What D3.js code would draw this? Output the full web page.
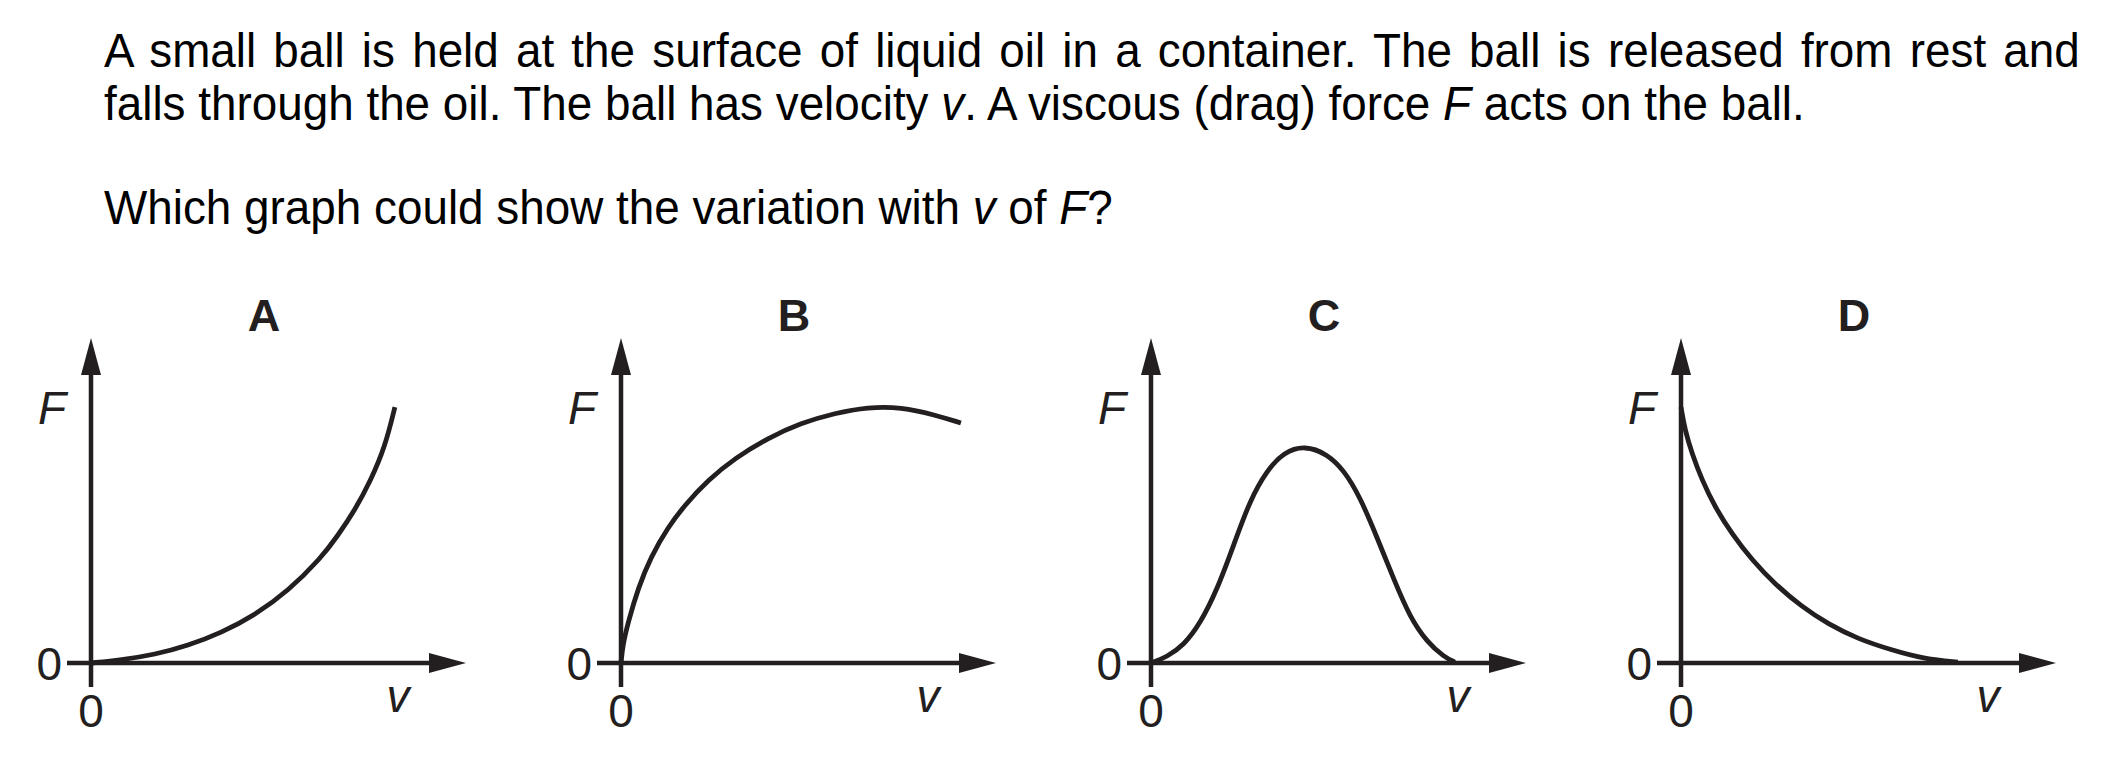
<!DOCTYPE html>
<html><head><meta charset="utf-8">
<script src="https://cdn.jsdelivr.net/npm/d3@7"></script>
<style>html,body{margin:0;padding:0;background:#fff;} svg{display:block} text{white-space:pre}</style>
</head><body>
<svg id="c" width="2101" height="767"></svg>
<script>
// ---- data ----
const panelLabels = ["A", "B", "C", "D"];
const axisYLabel = "F";
const axisXLabel = "v";
const zeroLabel = "0";

const curveA_v = [0, 1.0, 2.13, 3.23, 4.33, 5.47, 6.57, 7.67, 8.23, 8.8, 9.33, 9.8, 10.13];
const curveA_F = [0, 0.1, 0.28, 0.58, 1.0, 1.6, 2.4, 3.5, 4.25, 5.1, 6.1, 7.2, 8.53];

const curveB_v = [0, 0.06, 0.23, 0.57, 1.0, 1.57, 2.13, 2.9, 3.8, 4.9, 6.0, 7.13, 8.23, 9.33, 10.47, 11.33];
const curveB_F = [0, 0.6, 1.33, 2.5, 3.55, 4.53, 5.27, 6.1, 6.83, 7.5, 8.0, 8.33, 8.53, 8.53, 8.27, 8.0];

const curveC_v = [0, 0.53, 1.1, 1.63, 2.2, 2.77, 3.3, 3.87, 4.43, 5.13, 5.87, 6.43, 6.97, 7.53, 8.1, 8.63, 9.2, 9.77, 10.13];
const curveC_F = [0, 0.2, 0.6, 1.3, 2.43, 3.97, 5.43, 6.43, 7.03, 7.25, 6.97, 6.43, 5.53, 4.2, 2.77, 1.53, 0.7, 0.2, 0.03];

const curveD_v = [0, 0.13, 0.37, 0.7, 1.13, 1.7, 2.37, 3.13, 4.03, 4.9, 5.9, 7.03, 8.13, 9.23];
const curveD_F = [8.53, 7.77, 6.97, 6.1, 5.2, 4.3, 3.43, 2.63, 1.87, 1.3, 0.8, 0.43, 0.13, 0.03];

const questionLine1 = [["A small ball is held at the surface of liquid oil in a container. The ball is released from rest and", false]];
const questionLine2 = [["falls through the oil. The ball has velocity ", false], ["v", true], [". A viscous (drag) force ", false], ["F", true], [" acts on the ball.", false]];
const questionLine3 = [["Which graph could show the variation with ", false], ["v", true], [" of ", false], ["F", true], ["?", false]];

// ---- drawing ----
const svg = d3.select("#c");
const ink = "#231f20";
const font = "'Liberation Sans', Arial, Helvetica, sans-serif";
const fs = 49;

function addLine(segs) {
  const t = svg.append("text").attr("x", 0).attr("y", 0)
    .attr("font-family", font).attr("font-size", fs).attr("fill", "#000");
  segs.forEach(s => t.append("tspan").attr("font-style", s[1] ? "italic" : "normal").text(s[0]));
  return t;
}

// horizontal compression so line 2 spans its measured width
const l2 = addLine(questionLine2);
const sx = 1701 / l2.node().getComputedTextLength();
l2.attr("transform", `translate(104,120) scale(${sx},1)`);

const l1 = addLine(questionLine1);
const w1 = l1.node().getComputedTextLength();
const nSp = questionLine1[0][0].split(" ").length - 1;
l1.attr("word-spacing", (1976 / sx - w1) / nSp).attr("transform", `translate(104,67) scale(${sx},1)`);
addLine(questionLine3).attr("transform", `translate(104,224) scale(${sx},1)`);

const curves = [
  [curveA_v, curveA_F],
  [curveB_v, curveB_F],
  [curveC_v, curveC_F],
  [curveD_v, curveD_F]
];

const oy = 663;
const unit = 300; // px for 10 units
panelLabels.forEach((lab, i) => {
  const ox = 91 + 530 * i;
  const x = d3.scaleLinear().domain([0, 10]).range([ox, ox + unit]);
  const y = d3.scaleLinear().domain([0, 10]).range([oy, oy - unit]);
  const g = svg.append("g");

  // axes
  g.append("line").attr("x1", x(0)).attr("x2", x(0)).attr("y1", y(0) + 24).attr("y2", y(0) - 290)
    .attr("stroke", ink).attr("stroke-width", 4.5);
  g.append("path").attr("d", `M${x(0) - 10},${y(0) - 288}L${x(0)},${y(0) - 325}L${x(0) + 10},${y(0) - 288}Z`).attr("fill", ink);
  g.append("line").attr("x1", x(0) - 24).attr("x2", x(0) + 340).attr("y1", y(0)).attr("y2", y(0))
    .attr("stroke", ink).attr("stroke-width", 4.5);
  g.append("path").attr("d", `M${x(0) + 338},${y(0) - 10}L${x(0) + 375},${y(0)}L${x(0) + 338},${y(0) + 10}Z`).attr("fill", ink);

  // curve
  const [vs, Fs] = curves[i];
  const pts = vs.map((v, k) => [v, Fs[k]]);
  const line = d3.line().x(d => x(d[0])).y(d => y(d[1])).curve(d3.curveBasis);
  g.append("path").attr("d", line(pts)).attr("fill", "none").attr("stroke", ink).attr("stroke-width", 4.8);

  // labels
  g.append("text").attr("x", x(0) + 173).attr("y", 331).attr("text-anchor", "middle")
    .attr("font-family", font).attr("font-weight", "bold").attr("font-size", 45).attr("fill", ink).text(lab);
  g.append("text").attr("x", x(0) - 25).attr("y", 424).attr("text-anchor", "end")
    .attr("font-family", font).attr("font-style", "italic").attr("font-size", 46).attr("fill", ink).text(axisYLabel);
  g.append("text").attr("x", x(0) - 29).attr("y", y(0) + 17).attr("text-anchor", "end")
    .attr("font-family", font).attr("font-size", 46).attr("fill", ink).text(zeroLabel);
  g.append("text").attr("x", x(0)).attr("y", y(0) + 64).attr("text-anchor", "middle")
    .attr("font-family", font).attr("font-size", 46).attr("fill", ink).text(zeroLabel);
  g.append("text").attr("x", x(0) + 307).attr("y", y(0) + 49).attr("text-anchor", "middle")
    .attr("font-family", font).attr("font-style", "italic").attr("font-size", 46).attr("fill", ink).text(axisXLabel);
});
</script>
</body></html>
